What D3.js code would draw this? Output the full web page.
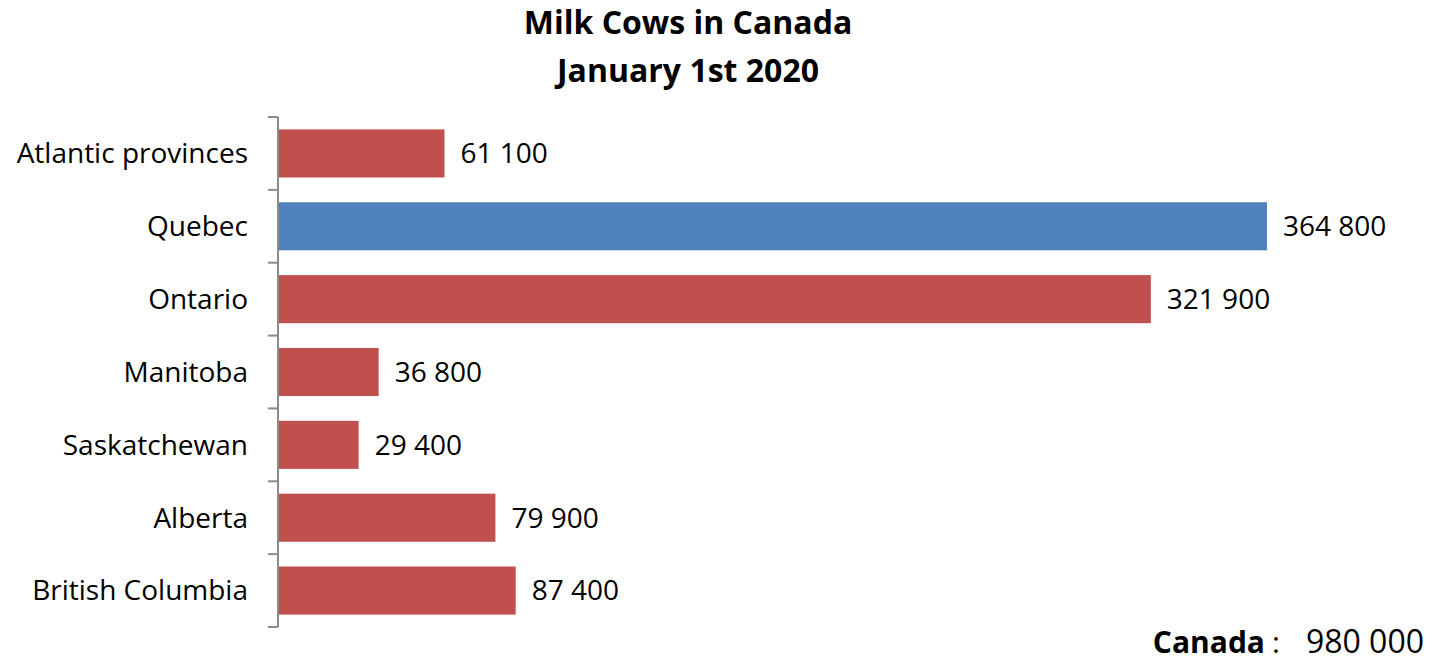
<!DOCTYPE html>
<html lang="en">
<head>
<meta charset="UTF-8">
<title>Milk Cows in Canada</title>
<style>
  body { margin: 0; background: #fff; }
  text { font-family: "Open Sans", sans-serif; fill: #000; }
</style>
</head>
<body>
<div id="chart"></div>
<script src="https://d3js.org/d3.v7.min.js"></script>
<script>
// data
var provinces = ["Atlantic provinces", "Quebec", "Ontario", "Manitoba", "Saskatchewan", "Alberta", "British Columbia"];
var cows = [61100, 364800, 321900, 36800, 29400, 79900, 87400];
var highlighted = ["Quebec"];
var total = 980000;

var W = 1435, H = 662;
var axisX = 278, axisTop = 117, axisBottom = 627;

var svg = d3.select("#chart").append("svg")
  .attr("width", W)
  .attr("height", H);

// format "364 800"
var fmt = function(v) { return d3.format(",")(v).replace(/,/g, " "); };

var data = provinces.map(function(p, i) { return { name: p, value: cows[i] }; });

// scales
var x = d3.scaleLinear()
  .domain([0, d3.max(cows)])
  .range([axisX + 1, 1267]);

var y = d3.scaleBand()
  .domain(provinces)
  .range([axisTop, axisBottom])
  .paddingInner(0.34)
  .paddingOuter(0.17);

// title
svg.append("text")
  .attr("x", 688).attr("y", 34)
  .attr("text-anchor", "middle")
  .style("font-size", "32px").style("font-weight", "bold")
  .text("Milk Cows in Canada");
svg.append("text")
  .attr("x", 688).attr("y", 82)
  .attr("text-anchor", "middle")
  .style("font-size", "32px").style("font-weight", "bold")
  .text("January 1st 2020");

// bars
svg.append("g")
  .selectAll("rect")
  .data(data)
  .enter()
  .append("rect")
    .attr("x", x(0))
    .attr("y", function(d) { return y(d.name); })
    .attr("width", function(d) { return x(d.value) - x(0); })
    .attr("height", y.bandwidth())
    .style("fill", function(d) { return highlighted.indexOf(d.name) >= 0 ? "#4F81BD" : "#C0504D"; });

// value labels
svg.append("g")
  .selectAll("text")
  .data(data)
  .enter()
  .append("text")
    .attr("x", function(d) { return x(d.value) + 16; })
    .attr("y", function(d) { return y(d.name) + y.bandwidth() / 2; })
    .attr("dy", "0.35em")
    .style("font-size", "28px")
    .text(function(d) { return fmt(d.value); });

// category axis with ticks between categories
var axis = svg.append("g").attr("class", "axis");
axis.append("line")
  .attr("x1", axisX).attr("x2", axisX)
  .attr("y1", axisTop).attr("y2", axisBottom)
  .style("stroke", "#8c8c8c").style("stroke-width", 2);

var bounds = provinces.map(function(p) { return y(p) - y.step() * y.paddingInner() / 2; });
bounds.push(axisBottom);
bounds[0] = axisTop;
axis.selectAll(".tick")
  .data(bounds)
  .enter()
  .append("line")
    .attr("x1", axisX - 10).attr("x2", axisX)
    .attr("y1", function(d) { return d; })
    .attr("y2", function(d) { return d; })
    .style("stroke", "#8c8c8c").style("stroke-width", 2);

axis.selectAll(".label")
  .data(provinces)
  .enter()
  .append("text")
    .attr("x", 248)
    .attr("y", function(d) { return y(d) + y.bandwidth() / 2; })
    .attr("dy", "0.35em")
    .attr("text-anchor", "end")
    .style("font-size", "28px")
    .text(function(d) { return d; });

// total note
svg.append("text")
  .attr("x", 1265).attr("y", 653)
  .attr("text-anchor", "end")
  .style("font-size", "30px").style("font-weight", "bold")
  .text("Canada");
svg.append("text")
  .attr("x", 1272).attr("y", 653)
  .style("font-size", "30px")
  .text(":");
svg.append("text")
  .attr("x", 1424).attr("y", 653)
  .attr("text-anchor", "end")
  .style("font-size", "32px")
  .text(fmt(total));
</script>
</body>
</html>
